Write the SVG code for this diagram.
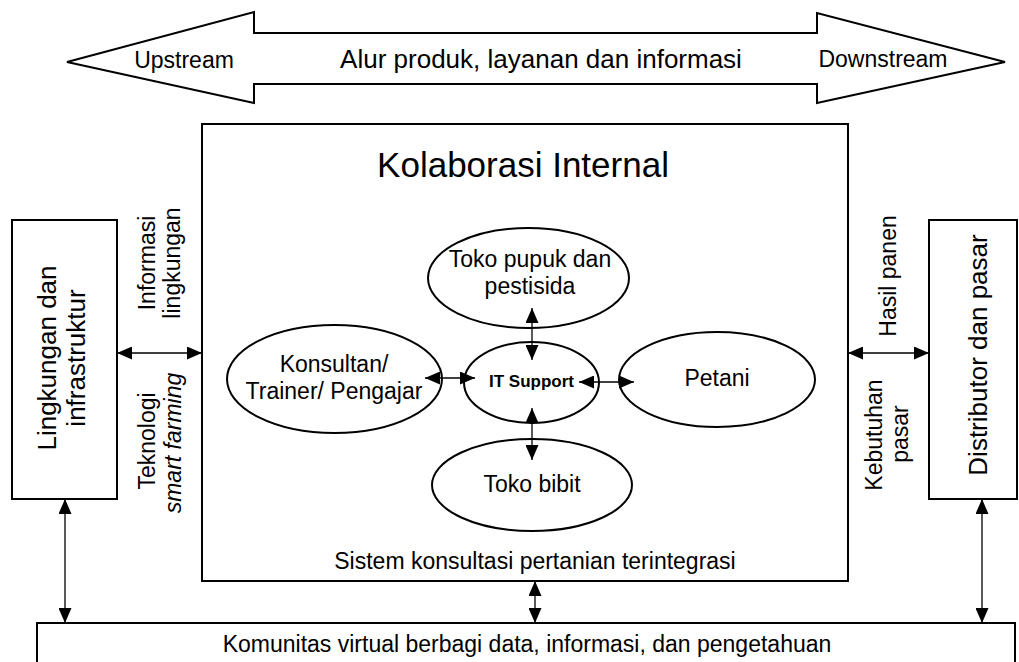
<svg xmlns="http://www.w3.org/2000/svg" width="1019" height="662" viewBox="0 0 1019 662">
<defs>
<style>
text{font-family:"Liberation Sans",Arial,sans-serif;fill:#000;}
.box{fill:#fff;stroke:#000;stroke-width:2;}
.ell{fill:#fff;stroke:#000;stroke-width:2;}
.con{fill:none;stroke:#000;stroke-width:1.3;marker-start:url(#ah);marker-end:url(#ah);}
.t23{font-size:23px;text-anchor:middle;}
</style>
<marker id="ah" viewBox="0 0 15 13" refX="15" refY="6.5" markerWidth="15" markerHeight="13" markerUnits="userSpaceOnUse" orient="auto-start-reverse">
<path d="M0,0 L15,6.5 L0,13 Z" fill="#000"/>
</marker>
</defs>
<rect width="1019" height="662" fill="#fff"/>

<g id="flow-arrow">
<polygon class="box" points="67,62 254,12 254,33 817,33 817,13 1005,62 817,103 817,84 254,84 254,103"/>
<text x="184" y="68" class="t23">Upstream</text>
<text x="541" y="68" style="font-size:26px;text-anchor:middle">Alur produk, layanan dan informasi</text>
<text x="883" y="67" class="t23">Downstream</text>
</g>

<g id="kolaborasi-internal">
<rect class="box" x="202" y="124" width="646" height="457"/>
<text x="523" y="177" style="font-size:35px;text-anchor:middle">Kolaborasi Internal</text>
<text x="535" y="569" class="t23">Sistem konsultasi pertanian terintegrasi</text>
</g>

<g id="lingkungan">
<rect class="box" x="12" y="220" width="105" height="279"/>
<text transform="translate(56,358) rotate(-90)" style="font-size:26px;text-anchor:middle">Lingkungan dan</text>
<text transform="translate(85,358) rotate(-90)" style="font-size:26px;text-anchor:middle">infrastruktur</text>
</g>

<g id="distributor">
<rect class="box" x="929" y="220" width="88" height="279"/>
<text transform="translate(987,355) rotate(-90)" style="font-size:26px;text-anchor:middle">Distributor dan pasar</text>
</g>

<g id="komunitas">
<rect class="box" x="37" y="623" width="978" height="60"/>
<text x="527" y="652" class="t23">Komunitas virtual berbagi data, informasi, dan pengetahuan</text>
</g>

<g id="connector-labels">
<text transform="translate(155,263) rotate(-90)" class="t23">Informasi</text>
<text transform="translate(180,263) rotate(-90)" class="t23">lingkungan</text>
<text transform="translate(155,441) rotate(-90)" class="t23">Teknologi</text>
<text transform="translate(181,443) rotate(-90)" class="t23" font-style="italic">smart farming</text>
<text transform="translate(896,276) rotate(-90)" class="t23">Hasil panen</text>
<text transform="translate(882,435) rotate(-90)" class="t23">Kebutuhan</text>
<text transform="translate(908,434) rotate(-90)" class="t23">pasar</text>
</g>

<g id="toko-pupuk">
<ellipse class="ell" cx="528.5" cy="278" rx="100.5" ry="50"/>
<text x="530" y="267" class="t23">Toko pupuk dan</text>
<text x="530" y="294" class="t23">pestisida</text>
</g>

<g id="konsultan">
<ellipse class="ell" cx="334.5" cy="379" rx="107.5" ry="54"/>
<text x="334" y="372" class="t23">Konsultan/</text>
<text x="334" y="399" class="t23">Trainer/ Pengajar</text>
</g>

<g id="it-support">
<ellipse class="ell" cx="531.5" cy="382.5" rx="67.5" ry="40.5"/>
<text x="531.5" y="387" style="font-size:17px;font-weight:bold;text-anchor:middle">IT Support</text>
</g>

<g id="petani">
<ellipse class="ell" cx="717" cy="379.5" rx="98" ry="47.5"/>
<text x="717" y="386" class="t23">Petani</text>
</g>

<g id="toko-bibit">
<ellipse class="ell" cx="532" cy="485" rx="100" ry="46"/>
<text x="532" y="492" class="t23">Toko bibit</text>
</g>

<g id="connectors">
<line class="con" x1="117" y1="353" x2="202" y2="353"/>
<line class="con" x1="848" y1="353" x2="929" y2="353"/>
<line class="con" x1="65" y1="499" x2="65" y2="623"/>
<line class="con" x1="982" y1="499" x2="982" y2="623"/>
<line class="con" x1="535" y1="581" x2="535" y2="623"/>
<line class="con" x1="532" y1="308" x2="532" y2="360"/>
<line class="con" x1="532" y1="408" x2="532" y2="460"/>
<line class="con" x1="425" y1="378" x2="475" y2="378"/>
<line class="con" x1="579" y1="382" x2="634" y2="382"/>
</g>
</svg>
